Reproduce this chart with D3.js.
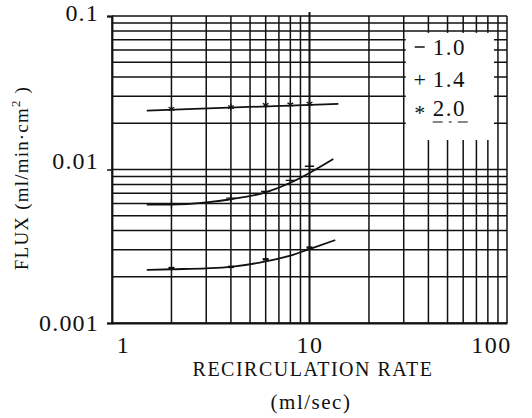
<!DOCTYPE html>
<html>
<head>
<meta charset="utf-8">
<script src="https://cdn.jsdelivr.net/npm/d3@7/dist/d3.min.js"></script>
<style>
  html, body { margin: 0; padding: 0; background: #fff; }
  svg { display: block; }
  text { font-family: "Liberation Serif", "DejaVu Serif", serif; fill: #111; }
</style>
</head>
<body>
<svg id="chart" width="532" height="418"></svg>
<script>
// Recirculation rate (ml/sec) vs. flux (ml/min·cm²), three runs
const seriesNames = ["1.0", "1.4", "2.0"];
const seriesSymbols = ["—", "+", "*"];

// measured points
const rate10 = [2, 4, 6, 10];
const flux10 = [0.00228, 0.00232, 0.0026, 0.0031];
const rate14 = [2, 4, 6, 8, 10];
const flux14 = [0.0060, 0.0065, 0.0072, 0.0085, 0.0105];
const rate20 = [2, 4, 6, 8, 10];
const flux20 = [0.0248, 0.0255, 0.0263, 0.0265, 0.0268];

// fitted curves through each run
const fitRate10 = [1.5, 2, 3, 4, 6, 8, 10, 13.5];
const fitFlux10 = [0.00222, 0.00224, 0.00227, 0.00232, 0.00252, 0.00275, 0.00303, 0.00347];
const fitRate14 = [1.5, 2, 3, 4, 6, 8, 10, 13.2];
const fitFlux14 = [0.0059, 0.0059, 0.0061, 0.0064, 0.0071, 0.0082, 0.0095, 0.0117];
const fitRate20 = [1.5, 14];
const fitFlux20 = [0.0242, 0.0268];

// axis ticks
const xTickValues = [1, 10, 100];
const xTickLabels = ["1", "10", "100"];
const yTickValues = [0.001, 0.01, 0.1];
const yTickLabels = ["0.001", "0.01", "0.1"];

const svg = d3.select("#chart");
const plotL = 112, plotR = 507, plotT = 16, plotB = 323;

const x = d3.scaleLog().domain([1, 100]).range([plotL, plotR]);
const y = d3.scaleLog().domain([0.001, 0.1]).range([plotB, plotT]);

const ink = "#111";

// log grid: 1..9 within each decade
const xGrid = [];
for (const d of [1, 10]) for (let k = 1; k <= 10; k++) xGrid.push(d * k);
const yGrid = [];
for (const d of [0.001, 0.01]) for (let k = 1; k <= 10; k++) yGrid.push(+(d * k).toPrecision(2));

const grid = svg.append("g");
grid.selectAll("line.v").data(Array.from(new Set(xGrid))).join("line")
  .attr("class", "v")
  .attr("x1", d => x(d)).attr("x2", d => x(d))
  .attr("y1", d => d === 10 ? plotT - 4 : plotT).attr("y2", plotB)
  .attr("stroke", ink).attr("stroke-width", d => d === 10 ? 2 : 1.5);
grid.selectAll("line.h").data(Array.from(new Set(yGrid))).join("line")
  .attr("class", "h")
  .attr("x1", plotL).attr("x2", plotR)
  .attr("y1", d => y(d)).attr("y2", d => y(d))
  .attr("stroke", ink).attr("stroke-width", 1.5);

// legend panel sits over the grid in the upper right
const lg = svg.append("g");
const boxL = x(30) + 2, boxR = x(90) - 4, boxT = y(0.08) + 2, boxB = 140;
lg.append("rect")
  .attr("x", boxL).attr("y", boxT)
  .attr("width", boxR - boxL).attr("height", boxB - boxT)
  .attr("fill", "#fff");
const legendY = [47, 79, 108];
seriesNames.forEach((name, i) => {
  if (i === 0) {
    lg.append("line").attr("x1", boxL + 9).attr("x2", boxL + 19)
      .attr("y1", legendY[i]).attr("y2", legendY[i])
      .attr("stroke", ink).attr("stroke-width", 1.5);
  } else {
    lg.append("text").attr("x", boxL + 14).attr("y", legendY[i] + (i === 1 ? 8 : 12))
      .attr("text-anchor", "middle").attr("font-size", 22).text(seriesSymbols[i]);
  }
  lg.append("text").attr("x", boxL + 27).attr("y", legendY[i] + 8)
    .attr("font-size", 23).attr("letter-spacing", 1.5).text(name);
});
lg.append("line")
  .attr("x1", boxL + 27).attr("x2", boxL + 67)
  .attr("y1", legendY[2] + 14).attr("y2", legendY[2] + 14)
  .attr("stroke", ink).attr("stroke-width", 1.2).attr("stroke-dasharray", "10,6,3,6,10");

// axes
const xAxis = d3.axisBottom(x).tickValues(xTickValues)
  .tickFormat((d, i) => xTickLabels[i]).tickSize(0).tickPadding(13);
const gx = svg.append("g").attr("transform", `translate(0,${plotB})`).call(xAxis);
gx.select(".domain").attr("stroke", ink).attr("stroke-width", 1.8);
gx.selectAll("text").attr("font-size", 24).attr("font-family", "Liberation Serif").attr("fill", ink)
  .attr("letter-spacing", 1.5)
  .attr("dx", (d, i) => i === 0 ? 11 : (i === 2 ? -16 : 0));

const yAxis = d3.axisLeft(y).tickValues(yTickValues)
  .tickFormat((d, i) => yTickLabels[i]).tickSize(5).tickPadding(8);
const gy = svg.append("g").attr("transform", `translate(${plotL},0)`).call(yAxis);
gy.select(".domain").attr("stroke", ink).attr("stroke-width", 1.8);
gy.selectAll(".tick line").attr("stroke", ink).attr("stroke-width", 1.5);
gy.selectAll("text").attr("font-size", 24).attr("font-family", "Liberation Serif").attr("fill", ink)
  .attr("letter-spacing", 1.2)
  .attr("dy", (d, i) => i === 1 ? "-0.05em" : (i === 2 ? "0.2em" : "0.32em"));

// titles
svg.append("text").attr("x", 313).attr("y", 376).attr("text-anchor", "middle")
  .attr("font-size", 20).attr("letter-spacing", 1.5).text("RECIRCULATION RATE");
svg.append("text").attr("x", 311).attr("y", 409).attr("text-anchor", "middle")
  .attr("font-size", 21).attr("letter-spacing", 1.5).text("(ml/sec)");
const yt = svg.append("text").attr("transform", "translate(28,178) rotate(-90)")
  .attr("text-anchor", "middle").attr("font-size", 19).attr("letter-spacing", 1.2);
yt.append("tspan").text("FLUX (ml/min·cm");
yt.append("tspan").attr("dy", -8).attr("font-size", 13).text("2");
yt.append("tspan").attr("dy", 8).text(" )");

// fitted curves
const line = d3.line().x(d => x(d[0])).y(d => y(d[1])).curve(d3.curveMonotoneX);
[[fitRate10, fitFlux10], [fitRate14, fitFlux14], [fitRate20, fitFlux20]].forEach(([r, f]) => {
  svg.append("path").datum(r.map((v, i) => [v, f[i]]))
    .attr("d", line).attr("fill", "none").attr("stroke", ink).attr("stroke-width", 1.8);
});

// data markers
svg.append("g").selectAll("line").data(rate10.map((v, i) => [v, flux10[i]])).join("line")
  .attr("x1", d => x(d[0]) - 3).attr("x2", d => x(d[0]) + 3)
  .attr("y1", d => y(d[1])).attr("y2", d => y(d[1]))
  .attr("stroke", ink).attr("stroke-width", 2.5);
svg.append("g").selectAll("path").data(rate14.map((v, i) => [v, flux14[i]])).join("path")
  .attr("transform", d => `translate(${x(d[0])},${y(d[1])})`)
  .attr("d", d3.symbol(d3.symbolPlus, 30))
  .attr("fill", "none").attr("stroke", ink).attr("stroke-width", 1.3);
svg.append("g").selectAll("path").data(rate20.map((v, i) => [v, flux20[i]])).join("path")
  .attr("transform", d => `translate(${x(d[0])},${y(d[1])})`)
  .attr("d", d3.symbol(d3.symbolAsterisk, 30))
  .attr("fill", "none").attr("stroke", ink).attr("stroke-width", 1.2);
</script>
</body>
</html>
